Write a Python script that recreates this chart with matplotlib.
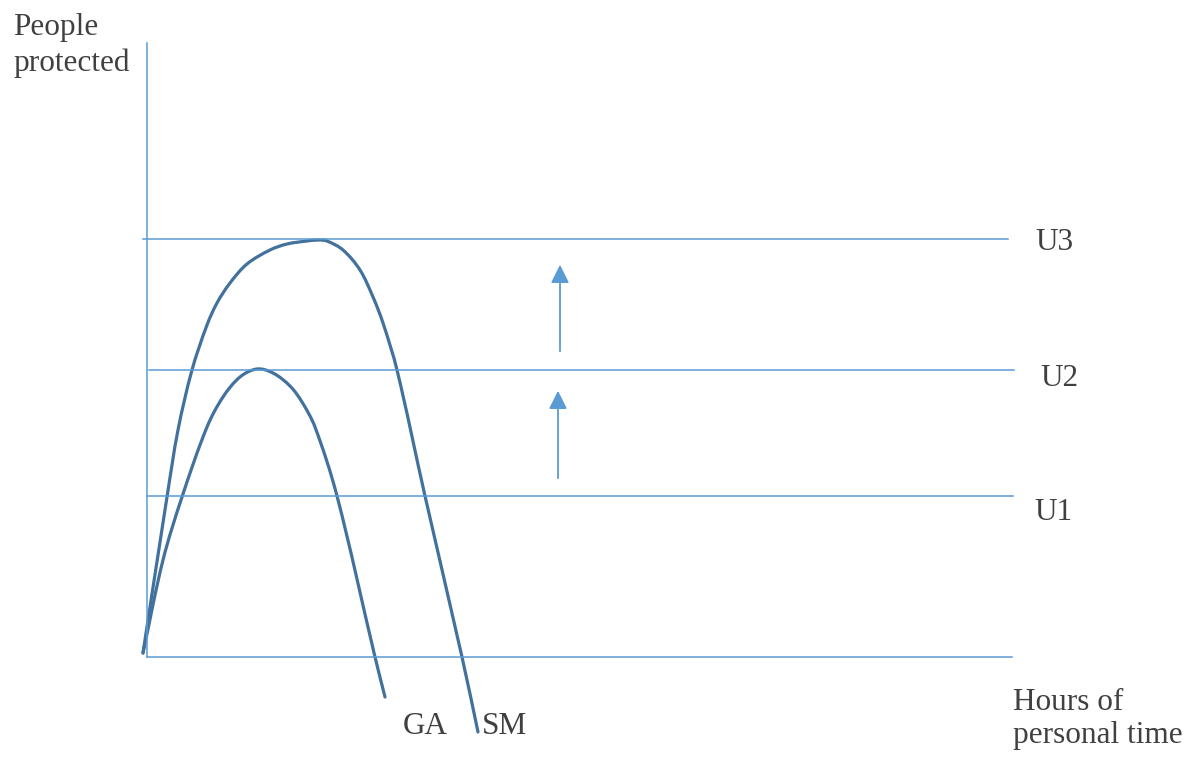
import numpy as np
import matplotlib

matplotlib.use("Agg")
import matplotlib.pyplot as plt
from matplotlib.path import Path
from matplotlib.patches import PathPatch

plt.rcParams["font.family"] = ["Liberation Serif", "DejaVu Serif"]

# utility levels (people protected)
levels = {"U1": 161, "U2": 287, "U3": 418}
level_spans = {"U1": (0, 866), "U2": (2, 867), "U3": (-4, 861)}

# GA curve
ga_x = [-4, 16, 35, 60, 76, 93, 110, 126, 143, 155, 168, 190, 228, 238]
ga_y = [4, 97, 160, 230, 260, 280, 288, 284, 271, 255, 230, 161, 0, -40]

# SM curve
sm_x = [-4, 20, 31, 45, 60, 70, 83, 100, 123, 140, 160, 172, 180, 196, 213, 226, 236, 250, 278, 315, 331]
sm_y = [4, 160, 227, 287, 332, 354, 374, 393, 407, 413, 416, 417, 416, 407, 387, 360, 334, 287, 161, 0, -75]

text_color = "#404040"
thin_color = "#5b9bd5"
curve_color = "#41719c"


def smooth_path(xs, ys):
    # cubic bezier through the knots, handle length ~ 1/3 of each segment
    p = np.column_stack([xs, ys]).astype(float)
    n = len(p)
    tang = []
    for i in range(n):
        d = p[min(i + 1, n - 1)] - p[max(i - 1, 0)]
        tang.append(d / np.hypot(*d))
    verts = [p[0]]
    codes = [Path.MOVETO]
    for i in range(n - 1):
        seg = np.hypot(*(p[i + 1] - p[i])) / 3
        verts += [p[i] + tang[i] * seg, p[i + 1] - tang[i + 1] * seg, p[i + 1]]
        codes += [Path.CURVE4] * 3
    return Path(verts, codes)


fig = plt.figure(figsize=(11.93, 7.59), dpi=100)
ax = fig.add_axes([0, 0, 1, 1])
ax.set_xlim(-147, 1046)
ax.set_ylim(-102, 657)
ax.axis("off")

# axes lines
ax.plot([0, 0], [0, 614], color=thin_color, lw=1.1)
ax.plot([0, 865], [0, 0], color=thin_color, lw=1.1)

# utility levels
label_pos = {"U1": (906, 144), "U2": (912, 278), "U3": (907, 414)}
for name, val in levels.items():
    x0, x1 = level_spans[name]
    ax.plot([x0, x1], [val, val], color=thin_color, lw=1.1)
    ax.text(*label_pos[name], name, fontsize=22.5, color=text_color,
            ha="center", va="center")

# curves
for xs, ys in [(ga_x, ga_y), (sm_x, sm_y)]:
    ax.add_patch(PathPatch(smooth_path(xs, ys), fill=False, edgecolor=curve_color,
                           lw=2.3, capstyle="round", joinstyle="round"))

# arrows
arrow_kw = dict(arrowstyle="-|>,head_length=1.1,head_width=0.55", color=thin_color, lw=1.3)
ax.annotate("", xy=(411, 269), xytext=(411, 176), arrowprops=arrow_kw)
ax.annotate("", xy=(413, 395), xytext=(413, 303), arrowprops=arrow_kw)

# labels
ax.text(-134, 644, "People\nprotected", fontsize=22.5, color=text_color,
        ha="left", va="top", linespacing=1.3)
ax.text(866, -31, "Hours of\npersonal time", fontsize=22.5, color=text_color,
        ha="left", va="top", linespacing=1.18)
ax.text(278, -69, "GA", fontsize=22.5, color=text_color, ha="center", va="center")
ax.text(358, -69, "SM", fontsize=22.5, color=text_color, ha="center", va="center")

plt.savefig("out.png", dpi=100)
